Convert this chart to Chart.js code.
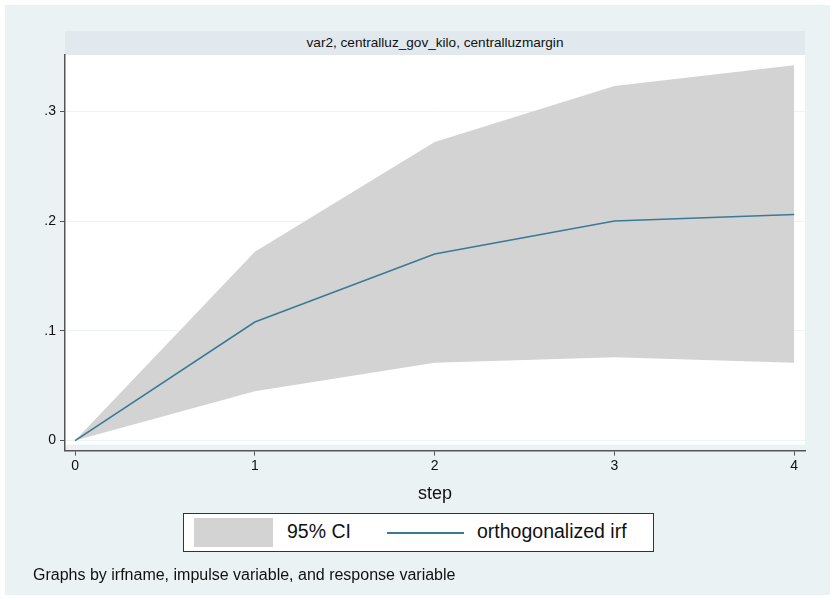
<!DOCTYPE html>
<html lang="en">
<head>
  <meta charset="UTF-8">
  <title>var2, centralluz_gov_kilo, centralluzmargin</title>
  <style>
    body {
      margin: 0;
      background: #ffffff;
      font-family: "Liberation Sans", Arial, sans-serif;
    }
    #frame {
      position: absolute;
      left: 5px; top: 5px;
      width: 825px; height: 590px;
      background: #eaf2f3;
    }
    #strip {
      position: absolute;
      left: 65px; top: 31px;
      width: 740px; height: 24px;
      background: #e1e9ef;
      font-size: 13.6px;
      line-height: 24px;
      text-align: center;
      color: #111;
    }
    #chartBox {
      position: absolute;
      left: 0; top: 0;
      width: 835px; height: 600px;
    }
    #legend {
      position: absolute;
      left: 183px; top: 513px;
      width: 469px; height: 37px;
      border: 1px solid #333;
      background: #fff;
      font-size: 19.5px;
      color: #111;
    }
    #legend .swatch {
      position: absolute;
      left: 10px; top: 4px;
      width: 79px; height: 29px;
      background: #d3d3d3;
    }
    #legend .lbl1 { position: absolute; left: 103px; top: 6px; }
    #legend .line {
      position: absolute;
      left: 203px; top: 18px;
      width: 77px; height: 2px;
      background: #3a7a98;
    }
    #legend .lbl2 { position: absolute; left: 293px; top: 6px; }
    #footer {
      position: absolute;
      left: 33px; top: 566px;
      font-size: 16px;
      color: #111;
    }
  </style>
</head>
<body>
  <div id="frame"></div>
  <div id="strip">var2, centralluz_gov_kilo, centralluzmargin</div>
  <div id="chartBox"><canvas id="myChart" width="835" height="600"></canvas></div>
  <div id="legend">
    <div class="swatch"></div><span class="lbl1">95% CI</span>
    <div class="line"></div><span class="lbl2">orthogonalized irf</span>
  </div>
  <div id="footer">Graphs by irfname, impulse variable, and response variable</div>

  <script src="https://cdn.jsdelivr.net/npm/chart.js"></script>
  <script>
    // datos
    var steps = [0, 1, 2, 3, 4];
    var irf = [0, 0.108, 0.170, 0.200, 0.206];
    var ciUpper = [0, 0.172, 0.272, 0.323, 0.342];
    var ciLower = [0, 0.045, 0.071, 0.076, 0.071];
    var xTicks = [0, 1, 2, 3, 4];
    var yTicks = [0, 0.1, 0.2, 0.3];
    var yTickLabels = ['0', '.1', '.2', '.3'];

    function pts(vals) {
      return steps.map(function(s, i) { return { x: s, y: vals[i] }; });
    }

    // fondo blanco de la region del grafico (deja hueco sobre el eje x)
    var plotBg = {
      id: 'plotBg',
      beforeDraw: function(chart) {
        var a = chart.chartArea, c = chart.ctx;
        c.save();
        c.fillStyle = '#ffffff';
        c.fillRect(a.left, a.top, a.right - a.left, a.bottom - a.top - 6);
        c.restore();
      }
    };

    var ctx = document.getElementById('myChart').getContext('2d');
    var myChart = new Chart(ctx, {
      type: 'line',
      data: {
        datasets: [{
          label: '95% CI upper',
          data: pts(ciUpper),
          borderWidth: 0,
          pointRadius: 0,
          backgroundColor: '#d3d3d3',
          fill: '+1',
          order: 2
        }, {
          label: '95% CI lower',
          data: pts(ciLower),
          borderWidth: 0,
          pointRadius: 0,
          fill: false,
          order: 2
        }, {
          label: 'orthogonalized irf',
          data: pts(irf),
          borderColor: '#3a7a98',
          borderWidth: 1.6,
          pointRadius: 0,
          fill: false,
          order: 1
        }]
      },
      options: {
        responsive: false,
        animation: false,
        layout: { padding: { left: 0, right: 30, top: 55, bottom: 95 } },
        plugins: {
          legend: { display: false },
          tooltip: { enabled: false }
        },
        scales: {
          x: {
            type: 'linear',
            min: -0.056,
            max: 4.06,
            afterBuildTicks: function(s) { s.ticks = xTicks.map(function(v) { return { value: v }; }); },
            ticks: {
              color: '#111',
              font: { family: 'Liberation Sans', size: 14 },
              padding: 2,
              maxRotation: 0,
              callback: function(v) { return String(v); }
            },
            grid: { drawOnChartArea: false, tickLength: 5, tickColor: '#555', tickWidth: 1 },
            border: { color: '#555', width: 1.5 },
            title: {
              display: true,
              text: 'step',
              color: '#111',
              font: { family: 'Liberation Sans', size: 18 },
              padding: { top: 7, bottom: 0 }
            }
          },
          y: {
            min: -0.00915,
            max: 0.3513,
            afterFit: function(s) { s.width = 65; },
            afterBuildTicks: function(s) { s.ticks = yTicks.map(function(v) { return { value: v }; }); },
            ticks: {
              color: '#111',
              font: { family: 'Liberation Sans', size: 14 },
              padding: 4,
              callback: function(v) {
                var i = yTicks.findIndex(function(t) { return Math.abs(t - v) < 1e-9; });
                return i >= 0 ? yTickLabels[i] : '';
              }
            },
            grid: { color: '#eef3f5', tickLength: 5, tickColor: '#555', tickWidth: 1 },
            border: { color: '#555', width: 1.5 }
          }
        }
      },
      plugins: [plotBg]
    });
  </script>
</body>
</html>
